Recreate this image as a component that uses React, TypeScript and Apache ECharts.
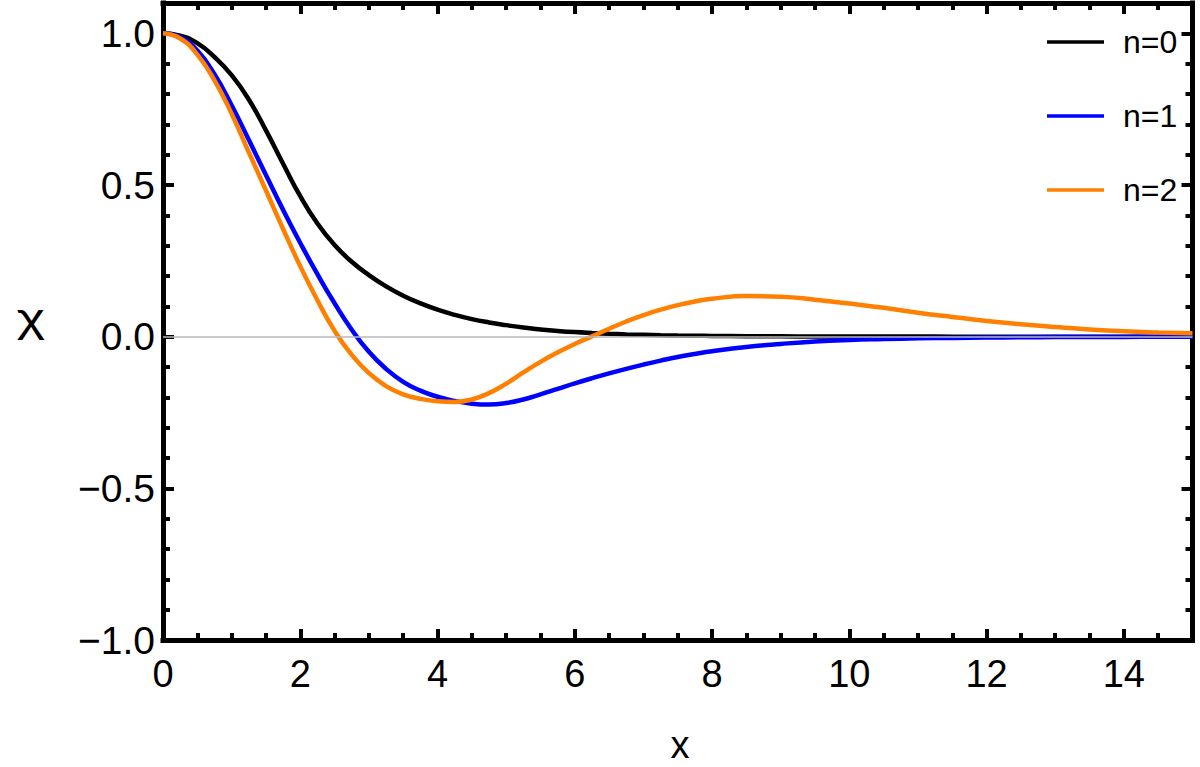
import React, { useEffect, useRef } from "react";
import * as echarts from "echarts";

const xs = [0, 0.25, 0.5, 0.75, 1, 1.25, 1.5, 1.75, 2, 2.25, 2.5, 2.75, 3, 3.25, 3.5, 3.75, 4, 4.25, 4.5, 4.75, 5, 5.25, 5.5, 5.75, 6, 6.25, 6.5, 6.75, 7, 7.25, 7.5, 7.75, 8, 8.5, 9, 9.5, 10, 10.5, 11, 11.5, 12, 12.5, 13, 13.5, 14, 14.5, 15];
const n0 = [1, 0.992, 0.968, 0.922, 0.862, 0.782, 0.68, 0.57, 0.463, 0.373, 0.302, 0.247, 0.203, 0.166, 0.135, 0.11, 0.089, 0.072, 0.058, 0.047, 0.038, 0.03, 0.024, 0.019, 0.015, 0.012, 0.0095, 0.0075, 0.006, 0.0047, 0.0037, 0.003, 0.0024, 0.0015, 0.001, 0.0006, 0.0004, 0.0003, 0.0002, 0.0001, 0, 0, 0, 0, 0, 0, 0];
const n1 = [1, 0.988, 0.943, 0.865, 0.763, 0.649, 0.533, 0.418, 0.309, 0.206, 0.11, 0.023, -0.05, -0.106, -0.149, -0.178, -0.198, -0.212, -0.221, -0.224, -0.219, -0.207, -0.19, -0.172, -0.154, -0.137, -0.121, -0.106, -0.092, -0.079, -0.067, -0.057, -0.048, -0.034, -0.024, -0.016, -0.011, -0.008, -0.0055, -0.004, -0.0028, -0.002, -0.0014, -0.001, -0.0007, -0.0005, -0.0003];
const n2 = [1, 0.983, 0.93, 0.845, 0.735, 0.608, 0.482, 0.355, 0.232, 0.12, 0.019, -0.06, -0.12, -0.163, -0.19, -0.205, -0.213, -0.215, -0.207, -0.186, -0.155, -0.118, -0.083, -0.052, -0.024, 0.001, 0.026, 0.05, 0.071, 0.089, 0.104, 0.116, 0.125, 0.134, 0.132, 0.122, 0.109, 0.095, 0.079, 0.065, 0.052, 0.041, 0.032, 0.024, 0.018, 0.014, 0.011];
const seriesNames = ["n=0", "n=1", "n=2"];
const seriesColors = ["#000000", "#0000ff", "#ff8000"];
const xTickLabels = ["0", "2", "4", "6", "8", "10", "12", "14"];
const xTitle = "x";
const yTitle = "χ";

const FONT = "'Liberation Sans', Arial, sans-serif";

export default function App() {
  const ref = useRef<HTMLDivElement>(null);
  useEffect(() => {
    if (!ref.current) return;
    const chart = echarts.init(ref.current, null, { renderer: "svg" });
    const all = [n0, n1, n2];
    const lineStyleAxis = { color: "#000", width: 5, cap: "square" as const };
    const tick = (len: number) => ({ show: true, inside: true, length: len, lineStyle: { color: "#000", width: 4 } });
    const yFmt = (v: number) => (v < 0 ? "\u2212" : "") + Math.abs(v).toFixed(1);
    const xFmt = (v: number) => {
      const s = String(Math.round(v));
      return xTickLabels.includes(s) ? s : "";
    };
    const minorAxis = (position: string, interval: number, min: number, max: number) => ({
      type: "value", min, max, interval, position,
      axisLine: { show: false, onZero: false },
      axisTick: tick(7),
      axisLabel: { show: false },
      splitLine: { show: false },
    });
    chart.setOption({
      animation: false,
      backgroundColor: "#fff",
      grid: { left: 163, right: 7.5, top: 3, bottom: 127, containLabel: false },
      legend: {
        data: seriesNames,
        orient: "vertical",
        left: 1047,
        top: 26,
        padding: 0,
        icon: "rect",
        itemWidth: 57,
        itemHeight: 3.5,
        itemGap: 42,
        selectedMode: false,
        textStyle: { fontSize: 32, fontFamily: FONT, color: "#000", padding: [0, 0, 0, 14], lineHeight: 20 },
      },
      xAxis: [
        {
          type: "value", min: 0, max: 15, interval: 2, position: "bottom",
          axisLine: { show: true, onZero: false, lineStyle: lineStyleAxis },
          axisTick: tick(11),
          axisLabel: { show: true, fontSize: 38, fontFamily: FONT, color: "#000", margin: 15, showMaxLabel: false, formatter: xFmt },
          splitLine: { show: false },
        },
        minorAxis("bottom", 0.5, 0, 15),
        {
          type: "value", min: 0, max: 15, interval: 2, position: "top",
          axisLine: { show: true, onZero: false, lineStyle: lineStyleAxis },
          axisTick: tick(11),
          axisLabel: { show: false },
          splitLine: { show: false },
        },
        minorAxis("top", 0.5, 0, 15),
      ],
      yAxis: [
        {
          type: "value", min: -1, max: 1.1, interval: 0.5, position: "left",
          axisLine: { show: true, onZero: false, lineStyle: lineStyleAxis },
          axisTick: tick(11),
          axisLabel: { show: true, fontSize: 39, fontFamily: FONT, color: "#000", margin: 8, showMaxLabel: false, formatter: yFmt },
          splitLine: { show: false },
        },
        minorAxis("left", 0.1, -1, 1.1),
        {
          type: "value", min: -1, max: 1.1, interval: 0.5, position: "right",
          axisLine: { show: true, onZero: false, lineStyle: lineStyleAxis },
          axisTick: tick(11),
          axisLabel: { show: false },
          splitLine: { show: false },
        },
        minorAxis("right", 0.1, -1, 1.1),
      ],
      graphic: [
        { type: "text", x: 680, y: 745, style: { text: xTitle, fontSize: 38, fontFamily: FONT, fill: "#000", textAlign: "center", textVerticalAlign: "middle" } },
        { type: "text", x: 31, y: 318, scaleX: 1.35, style: { text: yTitle, fontSize: 40, fontFamily: FONT, fill: "#000", textAlign: "center", textVerticalAlign: "middle" } },
      ],
      series: [
        {
          name: "zero", type: "line", data: [], xAxisIndex: 0, yAxisIndex: 0, z: 1,
          markLine: {
            silent: true, symbol: "none", label: { show: false },
            lineStyle: { color: "#b8b8b8", width: 1.5, type: "solid" },
            data: [{ yAxis: 0 }],
          },
        },
        ...seriesNames.map((name, i) => ({
          name,
          type: "line",
          xAxisIndex: 0,
          yAxisIndex: 0,
          z: 3,
          data: xs.map((x, j) => [x, all[i][j]]),
          smooth: 0.5,
          showSymbol: false,
          symbol: "none",
          color: seriesColors[i],
          lineStyle: { color: seriesColors[i], width: 4.5 },
        })),
      ],
    });
    return () => chart.dispose();
  }, []);
  return <div ref={ref} style={{ position: "absolute", left: 0, top: 0, width: 1200, height: 767 }} />;
}
